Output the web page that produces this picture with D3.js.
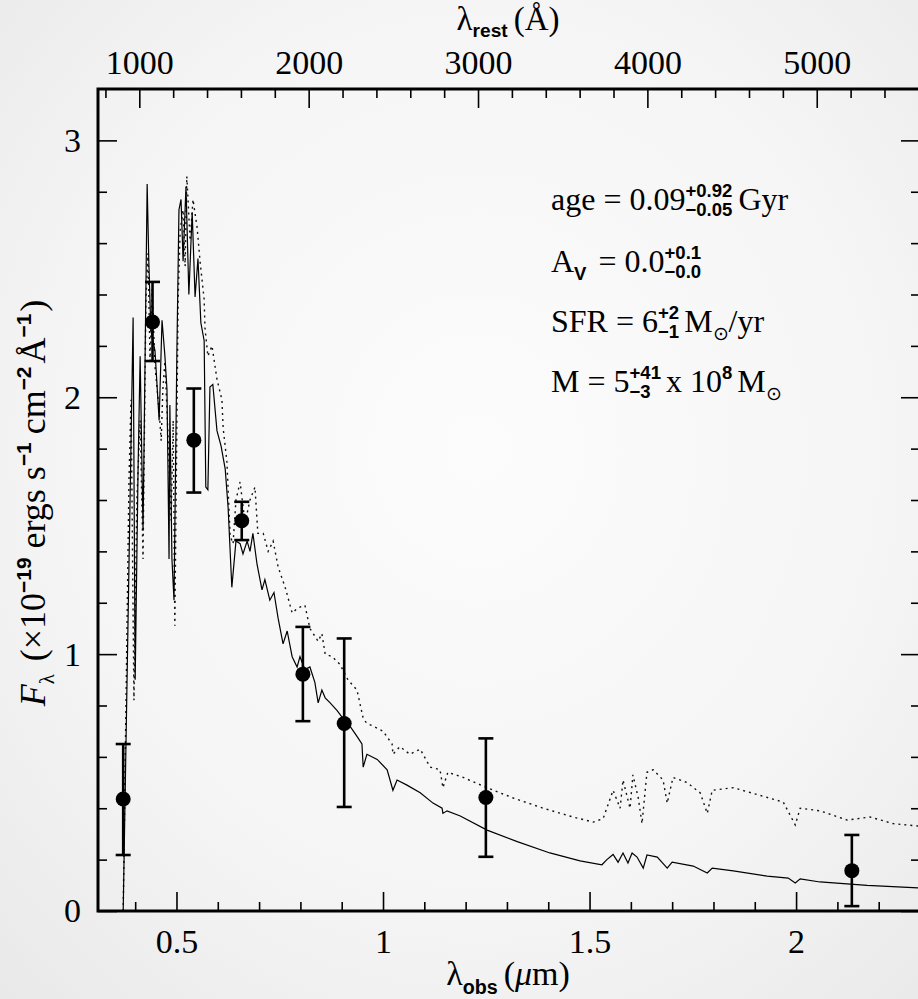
<!DOCTYPE html>
<html><head><meta charset="utf-8">
<script src="https://cdn.jsdelivr.net/npm/d3@7"></script>
<style>body{margin:0;background:#f4f4f4}svg{display:block}</style>
</head><body>
<svg id="chart" width="918" height="999"></svg>
<script>
// ---------------- data ----------------
const redshiftFactor = 4.1; // 1+z : lambda_obs = lambda_rest * (1+z)

// best-fit model spectrum (solid)
const solidWave = [0.371,0.395,0.400,0.407,0.412,0.419,0.429,0.433,0.438,0.448,0.458,0.465,0.472,0.477,0.482,0.484,0.489,0.494,0.501,0.506,0.511,0.516,0.523,0.530,0.538,0.545,0.552,0.559,0.567,0.571,0.576,0.581,0.588,0.598,0.608,0.618,0.625,0.634,0.644,0.654,0.661,0.671,0.678,0.685,0.695,0.707,0.714,0.726,0.736,0.746,0.758,0.768,0.780,0.792,0.799,0.811,0.823,0.835,0.843,0.852,0.860,0.872,0.889,0.903,0.920,0.937,0.949,0.952,0.961,0.986,1.010,1.024,1.034,1.058,1.090,1.121,1.143,1.145,1.155,1.187,1.252,1.325,1.404,1.477,1.530,1.542,1.557,1.569,1.581,1.593,1.603,1.615,1.630,1.639,1.664,1.688,1.700,1.751,1.785,1.797,1.848,1.930,1.981,1.998,2.010,2.058,2.172,2.300];
const solidFlux = [0.00,2.31,0.90,1.72,2.16,1.48,2.83,2.53,2.26,2.18,1.91,2.30,2.16,2.03,1.37,1.97,1.37,1.21,2.18,2.73,2.77,2.53,2.82,2.40,2.72,2.39,2.54,2.29,2.22,1.65,1.64,2.04,2.05,1.87,1.81,1.72,1.57,1.26,1.44,1.43,1.39,1.44,1.40,1.47,1.35,1.25,1.29,1.21,1.24,1.14,1.04,1.09,0.99,0.95,0.99,0.94,0.95,0.89,0.81,0.86,0.83,0.81,0.78,0.75,0.72,0.68,0.65,0.56,0.61,0.59,0.55,0.47,0.51,0.49,0.46,0.42,0.40,0.38,0.39,0.37,0.315,0.27,0.226,0.195,0.18,0.20,0.22,0.19,0.226,0.187,0.226,0.21,0.167,0.218,0.21,0.167,0.19,0.175,0.148,0.167,0.156,0.136,0.128,0.109,0.125,0.113,0.10,0.09];

// alternative model spectrum (dotted)
const dottedWave = [0.371,0.385,0.390,0.397,0.404,0.412,0.419,0.426,0.431,0.436,0.441,0.448,0.458,0.463,0.467,0.472,0.479,0.487,0.492,0.496,0.504,0.509,0.516,0.521,0.525,0.533,0.540,0.550,0.557,0.567,0.569,0.576,0.586,0.598,0.610,0.613,0.622,0.630,0.637,0.644,0.654,0.666,0.678,0.690,0.697,0.710,0.722,0.734,0.746,0.763,0.770,0.780,0.794,0.811,0.823,0.843,0.852,0.860,0.877,0.896,0.915,0.937,0.952,0.961,0.976,1.000,1.022,1.024,1.041,1.065,1.090,1.114,1.138,1.145,1.157,1.194,1.252,1.315,1.388,1.460,1.509,1.533,1.557,1.574,1.581,1.598,1.605,1.618,1.627,1.639,1.654,1.678,1.688,1.702,1.736,1.768,1.785,1.797,1.848,1.913,1.969,1.998,2.010,2.058,2.124,2.179,2.235,2.300];
const dottedFlux = [0.00,1.68,1.99,0.82,1.60,1.91,1.37,2.38,2.56,2.14,2.42,2.12,1.95,1.83,2.03,2.14,1.87,1.52,1.91,1.11,2.38,2.65,2.73,2.51,2.86,2.61,2.77,2.66,2.53,2.38,2.27,2.16,2.20,2.07,1.99,1.88,1.75,1.46,1.43,1.60,1.67,1.51,1.60,1.65,1.47,1.47,1.40,1.44,1.34,1.26,1.22,1.16,1.18,1.19,1.10,1.05,1.08,1.00,0.99,0.96,0.90,0.86,0.75,0.73,0.72,0.70,0.65,0.61,0.64,0.61,0.63,0.56,0.55,0.48,0.54,0.52,0.48,0.44,0.40,0.366,0.346,0.36,0.47,0.40,0.51,0.40,0.53,0.44,0.34,0.54,0.55,0.51,0.42,0.52,0.50,0.46,0.38,0.47,0.48,0.45,0.424,0.335,0.40,0.39,0.354,0.366,0.34,0.33];

// observed photometry
const obsWave  = [0.371,0.442,0.542,0.658,0.806,0.906,1.249,2.135];
const obsFlux  = [0.436,2.293,1.833,1.519,0.922,0.730,0.442,0.157];
const obsErrLo = [0.218,0.152,0.204,0.075,0.183,0.325,0.231,0.138];
const obsErrHi = [0.214,0.156,0.201,0.074,0.184,0.331,0.230,0.139];

const xMajorTicks = [0.5,1,1.5,2];
const xTickLabels = ["0.5","1","1.5","2"];
const yMajorTicks = [0,1,2,3];
const yTickLabels = ["0","1","2","3"];
const restMajorTicks = [1000,2000,3000,4000,5000];
const restTickLabels = ["1000","2000","3000","4000","5000"];

// ---------------- layout ----------------
const W = 918, H = 999;
const L = 98, R = 920, T = 89, B = 911;
const MAJ = 19, MIN = 9;
const serif = "Liberation Serif";
const sans = "Liberation Sans";
const TICKFS = 34;

const svg = d3.select("#chart");
const defs = svg.append("defs");
const rg = defs.append("radialGradient").attr("id","bg").attr("cx","52%").attr("cy","45%").attr("r","75%");
rg.append("stop").attr("offset","0%").attr("stop-color","#fcfcfc");
rg.append("stop").attr("offset","60%").attr("stop-color","#f5f5f5");
rg.append("stop").attr("offset","100%").attr("stop-color","#e9e9e9");
svg.append("rect").attr("width",W).attr("height",H).attr("fill","url(#bg)");
defs.append("clipPath").attr("id","clip").append("rect").attr("x",L).attr("y",T).attr("width",R-L).attr("height",B-T);

const x = d3.scaleLinear().domain([0.31,2.30]).range([L,R]);
const y = d3.scaleLinear().domain([0,3.2]).range([B,T]);
const xRest = d3.scaleLinear().domain([0.31*1e4/redshiftFactor, 2.30*1e4/redshiftFactor]).range([L,R]);

// ---------------- curves ----------------
const plot = svg.append("g").attr("clip-path","url(#clip)");
const line = d3.line().x(d=>x(d[0])).y(d=>y(d[1]));
plot.append("path").datum(dottedWave.map((w,i)=>[w,dottedFlux[i]]))
  .attr("d",line).attr("fill","none").attr("stroke","#111").attr("stroke-width",1.4)
  .attr("stroke-dasharray","2,4");
plot.append("path").datum(solidWave.map((w,i)=>[w,solidFlux[i]]))
  .attr("d",line).attr("fill","none").attr("stroke","#000").attr("stroke-width",1.2);

// error bars + points
const pts = svg.append("g");
obsWave.forEach((w,i)=>{
  const g = pts.append("g");
  const cx = x(w), lo = y(obsFlux[i]-obsErrLo[i]), hi = y(obsFlux[i]+obsErrHi[i]);
  g.append("line").attr("x1",cx).attr("x2",cx).attr("y1",lo).attr("y2",hi).attr("stroke","#000").attr("stroke-width",2.6);
  [lo,hi].forEach(v=>g.append("line").attr("x1",cx-7.5).attr("x2",cx+7.5).attr("y1",v).attr("y2",v).attr("stroke","#000").attr("stroke-width",2.6));
  g.append("circle").attr("cx",cx).attr("cy",y(obsFlux[i])).attr("r",7.5).attr("fill","#000");
});

// ---------------- axes ----------------
function styleAxis(g){
  g.select(".domain").remove();
  g.selectAll(".tick line").attr("stroke","#000").attr("stroke-width",1.6);
  g.selectAll("text").attr("font-family",serif).attr("font-size",TICKFS).attr("fill","#000");
}
const xMinor = d3.range(4,23).map(v=>v/10).filter(v=>!xMajorTicks.some(m=>Math.abs(m-v)<1e-6));
const yMinor = d3.range(1,16).map(v=>v/5).filter(v=>!yMajorTicks.some(m=>Math.abs(m-v)<1e-6));
const restAll = d3.range(800,5700,200);
const restMinor = restAll.filter(v=>v%1000!==0);

// bottom
svg.append("g").attr("transform",`translate(0,${B})`)
  .call(d3.axisBottom(x).tickValues(xMinor).tickSize(-MIN).tickFormat("")).call(styleAxis);
svg.append("g").attr("transform",`translate(0,${B})`)
  .call(d3.axisBottom(x).tickValues(xMajorTicks).tickSize(-MAJ).tickPadding(18).tickFormat((d,i)=>xTickLabels[i])).call(styleAxis);
// top (rest frame)
svg.append("g").attr("transform",`translate(0,${T})`)
  .call(d3.axisTop(xRest).tickValues(restMinor).tickSize(-MIN).tickFormat("")).call(styleAxis);
svg.append("g").attr("transform",`translate(0,${T})`)
  .call(d3.axisTop(xRest).tickValues(restMajorTicks).tickSize(-MAJ).tickPadding(15).tickFormat((d,i)=>restTickLabels[i])).call(styleAxis);
// left
svg.append("g").attr("transform",`translate(${L},0)`)
  .call(d3.axisLeft(y).tickValues(yMinor).tickSize(-MIN).tickFormat("")).call(styleAxis);
svg.append("g").attr("transform",`translate(${L},0)`)
  .call(d3.axisLeft(y).tickValues(yMajorTicks).tickSize(-MAJ).tickPadding(17).tickFormat((d,i)=>yTickLabels[i])).call(styleAxis);
// right
svg.append("g").attr("transform",`translate(${R},0)`)
  .call(d3.axisRight(y).tickValues(yMinor).tickSize(-MIN).tickFormat("")).call(styleAxis);
svg.append("g").attr("transform",`translate(${R},0)`)
  .call(d3.axisRight(y).tickValues(yMajorTicks).tickSize(-MAJ).tickFormat("")).call(styleAxis);

// frame
svg.append("rect").attr("x",L).attr("y",T).attr("width",R-L).attr("height",B-T)
  .attr("fill","none").attr("stroke","#000").attr("stroke-width",3);

// ---------------- rich text helper ----------------
function rich(parent, parts, size, subShift){
  const g = parent.append("g");
  let cx = 0;
  const sd = subShift === undefined ? 0.26 : subShift;
  parts.forEach(p=>{
    if(p.stack){
      const fs = p.fs || size*0.58;
      const a = g.append("text").attr("x",cx).attr("y",-size*0.42).text(p.stack[0])
        .attr("font-family",sans).attr("font-weight","bold").attr("font-size",fs);
      const b = g.append("text").attr("x",cx).attr("y",size*0.2).text(p.stack[1])
        .attr("font-family",sans).attr("font-weight","bold").attr("font-size",fs);
      cx += Math.max(a.node().getComputedTextLength(), b.node().getComputedTextLength()) + (p.gap||4);
    } else {
      let fs = size, dy = 0, fam = serif, wt = "normal", st = "normal";
      if(p.sub){ fs = p.fs || size*0.58; dy = size*sd; fam = p.fam || sans; wt = p.wt || "bold"; }
      if(p.sup){ fs = p.fs || size*0.58; dy = -size*0.4; fam = p.fam || sans; wt = p.wt || "bold"; }
      if(p.it){ st = "italic"; }
      const t = g.append("text").attr("x",cx).attr("y",dy).text(p.t)
        .attr("font-family",fam).attr("font-size",fs).attr("font-weight",wt).attr("font-style",st)
        .style("white-space","pre");
      cx += t.node().getComputedTextLength() + (p.gap||0);
    }
  });
  g.attr("fill","#000");
  return {g, width:cx};
}

// axis titles
const topTitle = rich(svg, [{t:"λ"},{t:"rest",sub:true,gap:6},{t:"(Å)"}], 33, 0.2);
topTitle.g.attr("transform",`translate(${508-topTitle.width/2},30)`);
const botTitle = rich(svg, [{t:"λ"},{t:"obs",sub:true,gap:6},{t:"("},{t:"μ",it:true},{t:"m)"}], 34);
botTitle.g.attr("transform",`translate(${508-botTitle.width/2},985)`);
const yTitle = rich(svg, [{t:"F",it:true},{t:"λ",sub:true,fam:serif,wt:"normal",gap:13},{t:"(×10"},{t:"−19",sup:true,gap:9},
  {t:"ergs s"},{t:"−1",sup:true,gap:8},{t:"cm"},{t:"−2",sup:true,gap:3},{t:"Å"},{t:"−1",sup:true,gap:2},{t:")"}], 36);
yTitle.g.attr("transform",`translate(45,503) rotate(-90) translate(${-yTitle.width/2},0)`);

// annotations
const AFS = 32;
const ann = svg.append("g").attr("transform","translate(551,0)");
const a1 = rich(ann, [{t:"age = 0.09"},{stack:["+0.92","−0.05"],gap:6},{t:"Gyr"}], AFS);
a1.g.attr("transform","translate(0,210)");
const a2 = rich(ann, [{t:"A"},{t:"V",sub:true,gap:4},{t:" = 0.0"},{stack:["+0.1","−0.0"]}], AFS);
a2.g.attr("transform","translate(0,272)");
const a3 = rich(ann, [{t:"SFR = 6"},{stack:["+2","−1"],gap:5},{t:"M"},{t:"⊙",sub:true,fam:serif,wt:"normal"},{t:"/yr"}], AFS);
a3.g.attr("transform","translate(0,332)");
const a4 = rich(ann, [{t:"M = 5"},{stack:["+41","−3"],gap:5},{t:"x 10"},{t:"8",sup:true,gap:5},{t:"M"},{t:"⊙",sub:true,fam:serif,wt:"normal"}], AFS);
a4.g.attr("transform","translate(0,392)");
</script>
</body></html>
